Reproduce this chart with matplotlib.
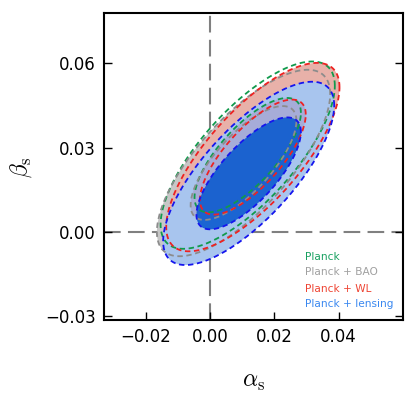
import numpy as np
import matplotlib
matplotlib.use("Agg")
import matplotlib.pyplot as plt

plt.rcParams['mathtext.fontset'] = 'cm'
plt.rcParams['font.family'] = ['DejaVu Sans']

# ---- data (Gaussian summaries of the posterior contours) ----
datasets = ["Planck", "Planck + BAO", "Planck + WL", "Planck + lensing"]
alpha_mean = [0.0117, 0.0104, 0.0133, 0.0120]
beta_mean = [0.0273, 0.0245, 0.0266, 0.0208]
alpha_sigma = [0.01091, 0.01085, 0.01085, 0.01071]
beta_sigma = [0.01345, 0.01339, 0.01353, 0.01316]
corr = [0.74, 0.74, 0.74, 0.74]
levels_dchi2 = [6.17, 2.30]  # 95% and 68% 2D

x_ticks = [-0.02, 0.00, 0.02, 0.04]
y_ticks = [-0.03, 0.00, 0.03, 0.06]
x_range = [-0.033, 0.060]
y_range = [-0.0315, 0.078]

line_colors = ['#119a4c', '#8c8c8c', '#ee2222', '#1515ee']
text_colors = ['#18a060', '#a0a0a0', '#ee4433', '#3a88f0']
outer_fill = [None, '#c7c7c7', '#e8b1a9', '#a8c5ee']
inner_fill = ['#a6acd8', '#a6acd8', '#a6acd8', '#0657ce']
inner_alpha = [1.0, 1.0, 1.0, 0.87]

fig = plt.figure(figsize=(4.15, 3.94), dpi=100)
ax = fig.add_axes([104/415, 1-320/394, 299/415, 307/394])

ax.axvline(0, color='#808080', lw=1.5, dashes=(8, 3.5), zorder=1)
ax.axhline(0, color='#808080', lw=1.5, dashes=(8, 3.5), zorder=1)

t = np.linspace(0, 2*np.pi, 400)
circ = np.vstack([np.cos(t), np.sin(t)])


def ellipse(i, k):
    sx, sy, r = alpha_sigma[i], beta_sigma[i], corr[i]
    cov = np.array([[sx*sx, r*sx*sy], [r*sx*sy, sy*sy]])
    L = np.linalg.cholesky(cov)
    pts = np.sqrt(k) * (L @ circ)
    return alpha_mean[i] + pts[0], beta_mean[i] + pts[1]


# outer (95%) fills first, then inner (68%) fills
for i in range(len(datasets)):
    if outer_fill[i] is not None:
        xo, yo = ellipse(i, levels_dchi2[0])
        ax.fill(xo, yo, color=outer_fill[i], lw=0, zorder=2 + i)
for i in range(len(datasets)):
    xi, yi = ellipse(i, levels_dchi2[1])
    ax.fill(xi, yi, color=inner_fill[i], alpha=inner_alpha[i], lw=0, zorder=7 + i)

for i in range(len(datasets)):
    xo, yo = ellipse(i, levels_dchi2[0])
    xi, yi = ellipse(i, levels_dchi2[1])
    ax.plot(xo, yo, color=line_colors[i], lw=1.3, dashes=(3, 2), zorder=12 + i)
    ax.plot(xi, yi, color=line_colors[i], lw=1.3, dashes=(3, 2), zorder=12 + i)

ax.set_xlim(x_range)
ax.set_ylim(y_range)
ax.set_xticks(x_ticks)
ax.set_yticks(y_ticks)
ax.set_xticklabels([f"{v:.2f}".replace('-', '\u2212') for v in x_ticks])
ax.set_yticklabels([f"{v:.2f}".replace('-', '\u2212') for v in y_ticks])
ax.tick_params(direction='in', length=6, width=1, labelsize=12, right=True, top=False, pad=6)
for s in ax.spines.values():
    s.set_linewidth(1.5)

ax.set_xlabel(r'$\alpha_{\rm s}$', fontsize=17)
ax.set_ylabel(r'$\beta_{\rm s}$', fontsize=17)
ax.xaxis.set_label_coords(0.5, -0.16)
ax.yaxis.set_label_coords(-0.235, 0.498)

ypos = [0.205, 0.155, 0.102, 0.052]
for i, name in enumerate(datasets):
    ax.text(0.672, ypos[i], name, color=text_colors[i], fontsize=7.6, va='center', ha='left',
            transform=ax.transAxes, zorder=20)

fig.savefig('out.png', dpi=100)
